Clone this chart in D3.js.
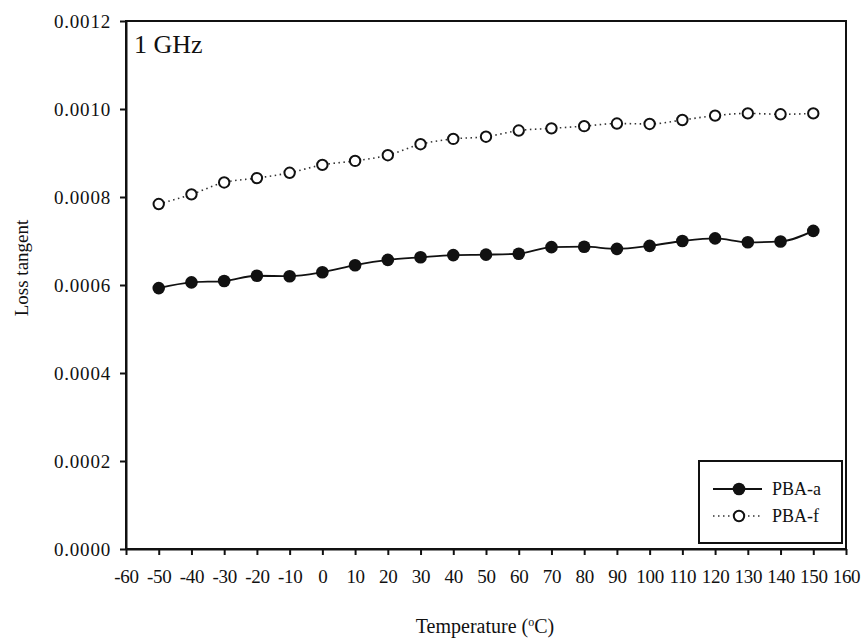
<!DOCTYPE html>
<html><head><meta charset="utf-8">
<script src="https://cdn.jsdelivr.net/npm/d3@7"></script>
<style>body{margin:0;background:#fff}svg{display:block}text{font-family:"Liberation Serif","Times New Roman",serif;fill:#111}</style>
</head><body><svg id="c" width="865" height="642"></svg>
<script>
const temperatures = [-50,-40,-30,-20,-10,0,10,20,30,40,50,60,70,80,90,100,110,120,130,140,150];
const pbaA = [0.000593,0.000606,0.000609,0.000621,0.000620,0.000629,0.000645,0.000657,0.000663,0.000668,0.000669,0.000671,0.000686,0.000687,0.000682,0.000689,0.000700,0.000706,0.000697,0.000699,0.000723];
const pbaF = [0.000784,0.000806,0.000833,0.000843,0.000855,0.000873,0.000882,0.000895,0.000920,0.000932,0.000937,0.000951,0.000956,0.000961,0.000967,0.000966,0.000975,0.000985,0.000990,0.000988,0.000990];
const xTicks = [-60,-50,-40,-30,-20,-10,0,10,20,30,40,50,60,70,80,90,100,110,120,130,140,150,160];
const yTicks = [0,0.0002,0.0004,0.0006,0.0008,0.0010,0.0012];
const seriesNames = ["PBA-a","PBA-f"];

const svg = d3.select("#c");
const L=126,R=846,T=21,B=549;
const x = d3.scaleLinear().domain([-60,160]).range([L,R]);
const y = d3.scaleLinear().domain([0,0.0012]).range([B,T]);

svg.append("rect").attr("x",L).attr("y",T).attr("width",R-L).attr("height",B-T)
  .attr("fill","none").attr("stroke","#111").attr("stroke-width",2);

const xa = svg.append("g").attr("transform",`translate(0,${B})`)
  .call(d3.axisBottom(x).tickValues(xTicks).tickFormat(d=>String(d)).tickSize(6).tickSizeOuter(0));
const ya = svg.append("g").attr("transform",`translate(${L},0)`)
  .call(d3.axisLeft(y).tickValues(yTicks).tickFormat(d=>d.toFixed(4)).tickSize(6).tickSizeOuter(0));
[xa,ya].forEach(a=>{
  a.select(".domain").attr("stroke","#111").attr("stroke-width",2);
  a.selectAll(".tick line").attr("stroke","#111").attr("stroke-width",2);
  a.selectAll("text").attr("font-size",19).attr("font-family","Liberation Serif").attr("fill","#111");
});
xa.selectAll("text").attr("dy",null).attr("y",34).attr("letter-spacing","-0.3");
ya.selectAll("text").attr("x",-15).attr("letter-spacing","0.8");

const la = d3.line().x((d,i)=>x(temperatures[i])).y(d=>y(d)).curve(d3.curveMonotoneX);
svg.append("path").datum(pbaF).attr("d",la).attr("fill","none").attr("stroke","#333")
  .attr("stroke-width",1.6).attr("stroke-dasharray","1.5,3.5");
svg.append("path").datum(pbaA).attr("d",la).attr("fill","none").attr("stroke","#111").attr("stroke-width",1.8);
svg.selectAll("circle.f").data(pbaF).enter().append("circle").attr("class","f")
  .attr("cx",(d,i)=>x(temperatures[i])).attr("cy",d=>y(d)).attr("r",5.2)
  .attr("fill","#fff").attr("stroke","#111").attr("stroke-width",2);
svg.selectAll("circle.a").data(pbaA).enter().append("circle").attr("class","a")
  .attr("cx",(d,i)=>x(temperatures[i])).attr("cy",d=>y(d)).attr("r",6.3).attr("fill","#111");

svg.append("text").attr("x",134).attr("y",53).attr("font-size",26).text("1 GHz");

const lg = svg.append("g");
lg.append("rect").attr("x",699).attr("y",461).attr("width",143).attr("height",82)
  .attr("fill","#fff").attr("stroke","#111").attr("stroke-width",2);
lg.append("line").attr("x1",713).attr("x2",762).attr("y1",489).attr("y2",489).attr("stroke","#111").attr("stroke-width",1.8);
lg.append("circle").attr("cx",739).attr("cy",489).attr("r",6.3).attr("fill","#111");
lg.append("line").attr("x1",713).attr("x2",762).attr("y1",516).attr("y2",516).attr("stroke","#333").attr("stroke-width",1.6).attr("stroke-dasharray","1.5,3.5");
lg.append("circle").attr("cx",739).attr("cy",516).attr("r",5.2).attr("fill","#fff").attr("stroke","#111").attr("stroke-width",2);
lg.selectAll("text.lg").data(seriesNames).enter().append("text").attr("class","lg")
  .attr("x",772).attr("y",(d,i)=>489+27*i).attr("dy","0.35em").attr("font-size",18).text(d=>d);

svg.append("text").attr("x",485).attr("y",633).attr("text-anchor","middle").attr("font-size",20)
  .html('Temperature (<tspan dy="-7" font-size="12">o</tspan><tspan dy="7">C)</tspan>');
svg.append("text").attr("transform","translate(28,268) rotate(-90)").attr("text-anchor","middle")
  .attr("font-size",19).text("Loss tangent");
</script></body></html>
